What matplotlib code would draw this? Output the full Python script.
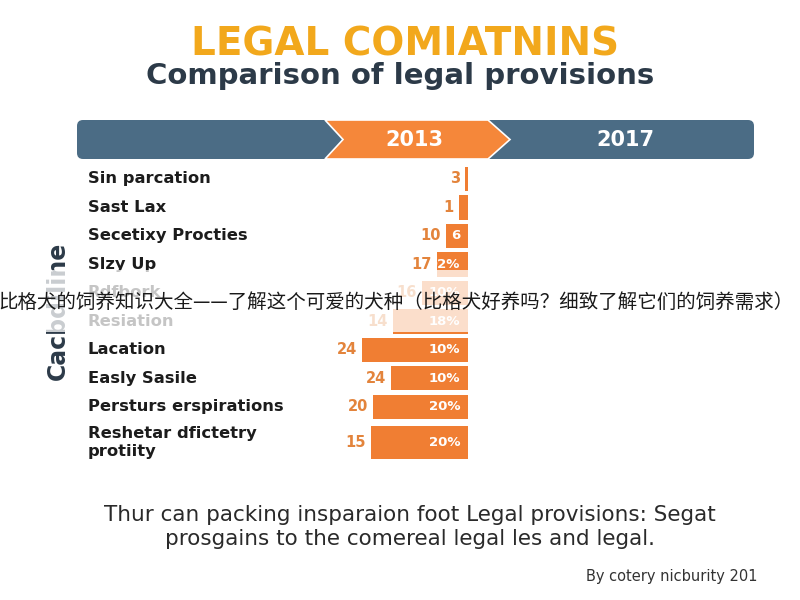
import numpy as np
import matplotlib
matplotlib.use("Agg")
import matplotlib.pyplot as plt
import matplotlib.transforms as mtransforms
from matplotlib.patches import FancyBboxPatch, Polygon, Rectangle

# data
rows = ["Sin parcation", "Sast Lax", "Secetixy Procties", "Slzy Up", "Rdfbork",
        "Resiation", "Lacation", "Easly Sasile", "Persturs erspirations",
        "Reshetar dfictetry\nprotiity"]
bar_len = [3, 9, 22, 31, 46, 75, 106, 77, 95, 97]
outer_lbl = ["3", "1", "10", "17", "16", "14", "24", "24", "20", "15"]
inner_lbl = ["", "", "6", "92%", "10%", "18%", "10%", "10%", "20%", "20%"]
years = ["2013", "2017"]

title = "LEGAL COMIATNINS"
subtitle = "Comparison of legal provisions"
ylabel = "Cacbdiline"
overlay_txt = "比格犬的饲养知识大全——了解这个可爱的犬种（比格犬好养吗？细致了解它们的饲养需求）"
foot = "Thur can packing insparaion foot Legal provisions: Segat\nprosgains to the comereal legal les and legal."
credit = "By cotery nicburity 201"

# colours
navy = '#4b6c85'
orange = '#f5873a'
bar_c = '#f07e33'
num_c = '#e3843c'
gold = '#f2a81c'
dark = '#2c3a48'

plt.rcParams['font.family'] = ['DejaVu Sans']
fig = plt.figure(figsize=(8, 6), dpi=100, facecolor='white')

# bar panel (1 x-unit = 1 px, bars grow to the left from 0)
ax = fig.add_axes([77 / 800, 0.225, 678 / 800, 0.5])
ax.set_xlim(391, -287)
ax.set_ylim(10.04, -0.49)
ax.axis('off')

pos = np.arange(len(rows), dtype=float)
pos[-1] += 0.25
thick = np.full(len(rows), 0.85)
thick[-1] = 1.15
ax.barh(pos, bar_len, height=thick, color=bar_c, left=0)

trans = mtransforms.blended_transform_factory(ax.transAxes, ax.transData)
for i, name in enumerate(rows):
    ax.text(0.016, pos[i], name, transform=trans, ha='left', va='center',
            fontsize=11.8, fontweight='bold', color='#1c1c1c', linespacing=1.2)
    ax.text(bar_len[i] + 5, pos[i], outer_lbl[i], ha='right', va='center',
            fontsize=10.5, fontweight='bold', color=num_c)
    if inner_lbl[i]:
        ax.text(8, pos[i], inner_lbl[i], ha='right', va='center',
                fontsize=9.5, fontweight='bold', color='white')

# decoration layer in pixel coordinates
deco = fig.add_axes([0, 0, 1, 1], zorder=5)
deco.set_xlim(0, 800)
deco.set_ylim(600, 0)
deco.axis('off')
deco.patch.set_alpha(0)

deco.add_patch(FancyBboxPatch((77, 120), 677, 39,
                              boxstyle="round,pad=0,rounding_size=6",
                              facecolor=navy, edgecolor='none'))
deco.add_patch(Polygon([(325, 120), (488, 120), (510, 139.5), (488, 159),
                        (325, 159), (343, 139.5)], closed=True,
                       facecolor=orange, edgecolor='white', lw=1.2))
deco.text(414, 140, years[0], ha='center', va='center', fontsize=15,
          fontweight='bold', color='white')
deco.text(625, 140, years[1], ha='center', va='center', fontsize=15,
          fontweight='bold', color='white')

deco.text(405, 45, title, ha='center', va='center', fontsize=28,
          fontweight='bold', color=gold)
deco.text(400, 76, subtitle, ha='center', va='center', fontsize=21,
          fontweight='bold', color=dark)

deco.text(58, 311, ylabel, ha='center', va='center', rotation=90,
          fontsize=17, fontweight='bold', color=dark, zorder=2)

# washed-out band with the overlaid caption
deco.add_patch(Rectangle((0, 270), 800, 62, facecolor='white', alpha=0.75,
                         edgecolor='none', zorder=4))
deco.text(396, 302, overlay_txt, ha='center', va='center', fontsize=14,
          color='#1a1a1a', family=['Noto Sans CJK SC', 'DejaVu Sans'], zorder=6)

deco.text(410, 527, foot, ha='center', va='center', fontsize=15.5,
          color='#2a2a2a', linespacing=1.2)
deco.text(757, 577, credit, ha='right', va='center', fontsize=10.5,
          color='#333333')

fig.savefig('out.png', dpi=100, facecolor='white')
